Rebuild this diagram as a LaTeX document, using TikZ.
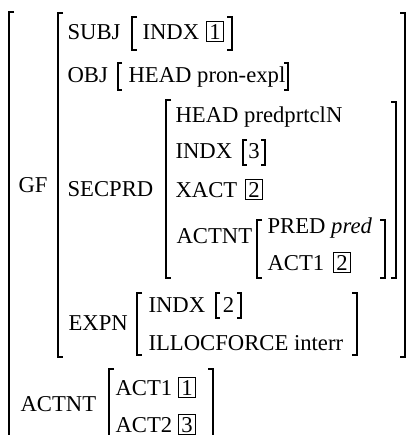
\documentclass[tikz,border=0pt]{standalone}
\usepackage{fontspec}
\setmainfont{Liberation Serif}

\begin{document}
\begin{tikzpicture}[x=0.6pt,y=-0.6pt,line width=0.7pt,
  every node/.style={inner sep=0pt,anchor=base west,font=\fontsize{13.6}{16}\selectfont},
  tag/.style={draw,anchor=base,inner sep=1.6pt,line width=0.6pt}]
\useasboundingbox (0,0) rectangle (410,435);
\clip (0,0) rectangle (410,435);
% outer matrix
\draw (14,12) -- (9,12) -- (9,460);
\node (gf) at (18,192) {GF};
\node (actnt) at (20,411) {ACTNT};
% GF value
\draw (63,13) -- (58,13) -- (58,357) -- (63,357);
\draw (400,13) -- (405,13) -- (405,357) -- (400,357);
\node (subj) at (67,39) {SUBJ};
\draw (137,17) -- (132,17) -- (132,50) -- (137,50);
\node (subjindx) at (142,39) {INDX};
\node[tag] (tagA) at (215,39) {1};
\draw (227,17) -- (232,17) -- (232,50) -- (227,50);
\node (obj) at (67,82) {OBJ};
\draw (122,63) -- (118,63) -- (118,90) -- (122,90);
\node (objhead) at (128,82) {HEAD pron-expl};
\draw (284,63) -- (288,63) -- (288,90) -- (284,90);
% SECPRD
\node (secprd) at (67,196) {SECPRD};
\draw (171,100) -- (166,100) -- (166,278) -- (171,278);
\draw (391,102) -- (396,102) -- (396,278) -- (391,278);
\node (head) at (175,122) {HEAD predprtclN};
\node (indx) at (175,158) {INDX};
\draw (247,140) -- (243,140) -- (243,165) -- (247,165);
\node[anchor=base] (indxval) at (254,158) {3};
\draw (261,140) -- (265,140) -- (265,165) -- (261,165);
\node (xact) at (175,197) {XACT};
\node[tag] (tagB) at (254,197) {2};
\node (inactnt) at (176,243) {ACTNT};
\draw (262,220) -- (257,220) -- (257,278) -- (262,278);
\draw (380,220) -- (385,220) -- (385,278) -- (380,278);
\node (pred) at (267,233) {PRED \textit{pred}};
\node (actone) at (267,270) {ACT1};
\node[tag] (tagC) at (342,270) {2};
% EXPN
\node (expn) at (68,330) {EXPN};
\draw (142,293) -- (137,293) -- (137,355) -- (142,355);
\draw (352,293) -- (357,293) -- (357,355) -- (352,355);
\node (expnindx) at (148,312) {INDX};
\draw (220,293) -- (216,293) -- (216,318) -- (220,318);
\node[anchor=base] (expnval) at (228.5,312) {2};
\draw (237,293) -- (241,293) -- (241,318) -- (237,318);
\node (illoc) at (148,350) {ILLOCFORCE interr};
% ACTNT value
\draw (114,369) -- (109,369) -- (109,460);
\draw (208,369) -- (213,369) -- (213,460);
\node (actA) at (115,395) {ACT1};
\node[tag] (tagD) at (187,395) {1};
\node (actB) at (115,432) {ACT2};
\node[tag] (tagE) at (187,432) {3};
\end{tikzpicture}
\end{document}
